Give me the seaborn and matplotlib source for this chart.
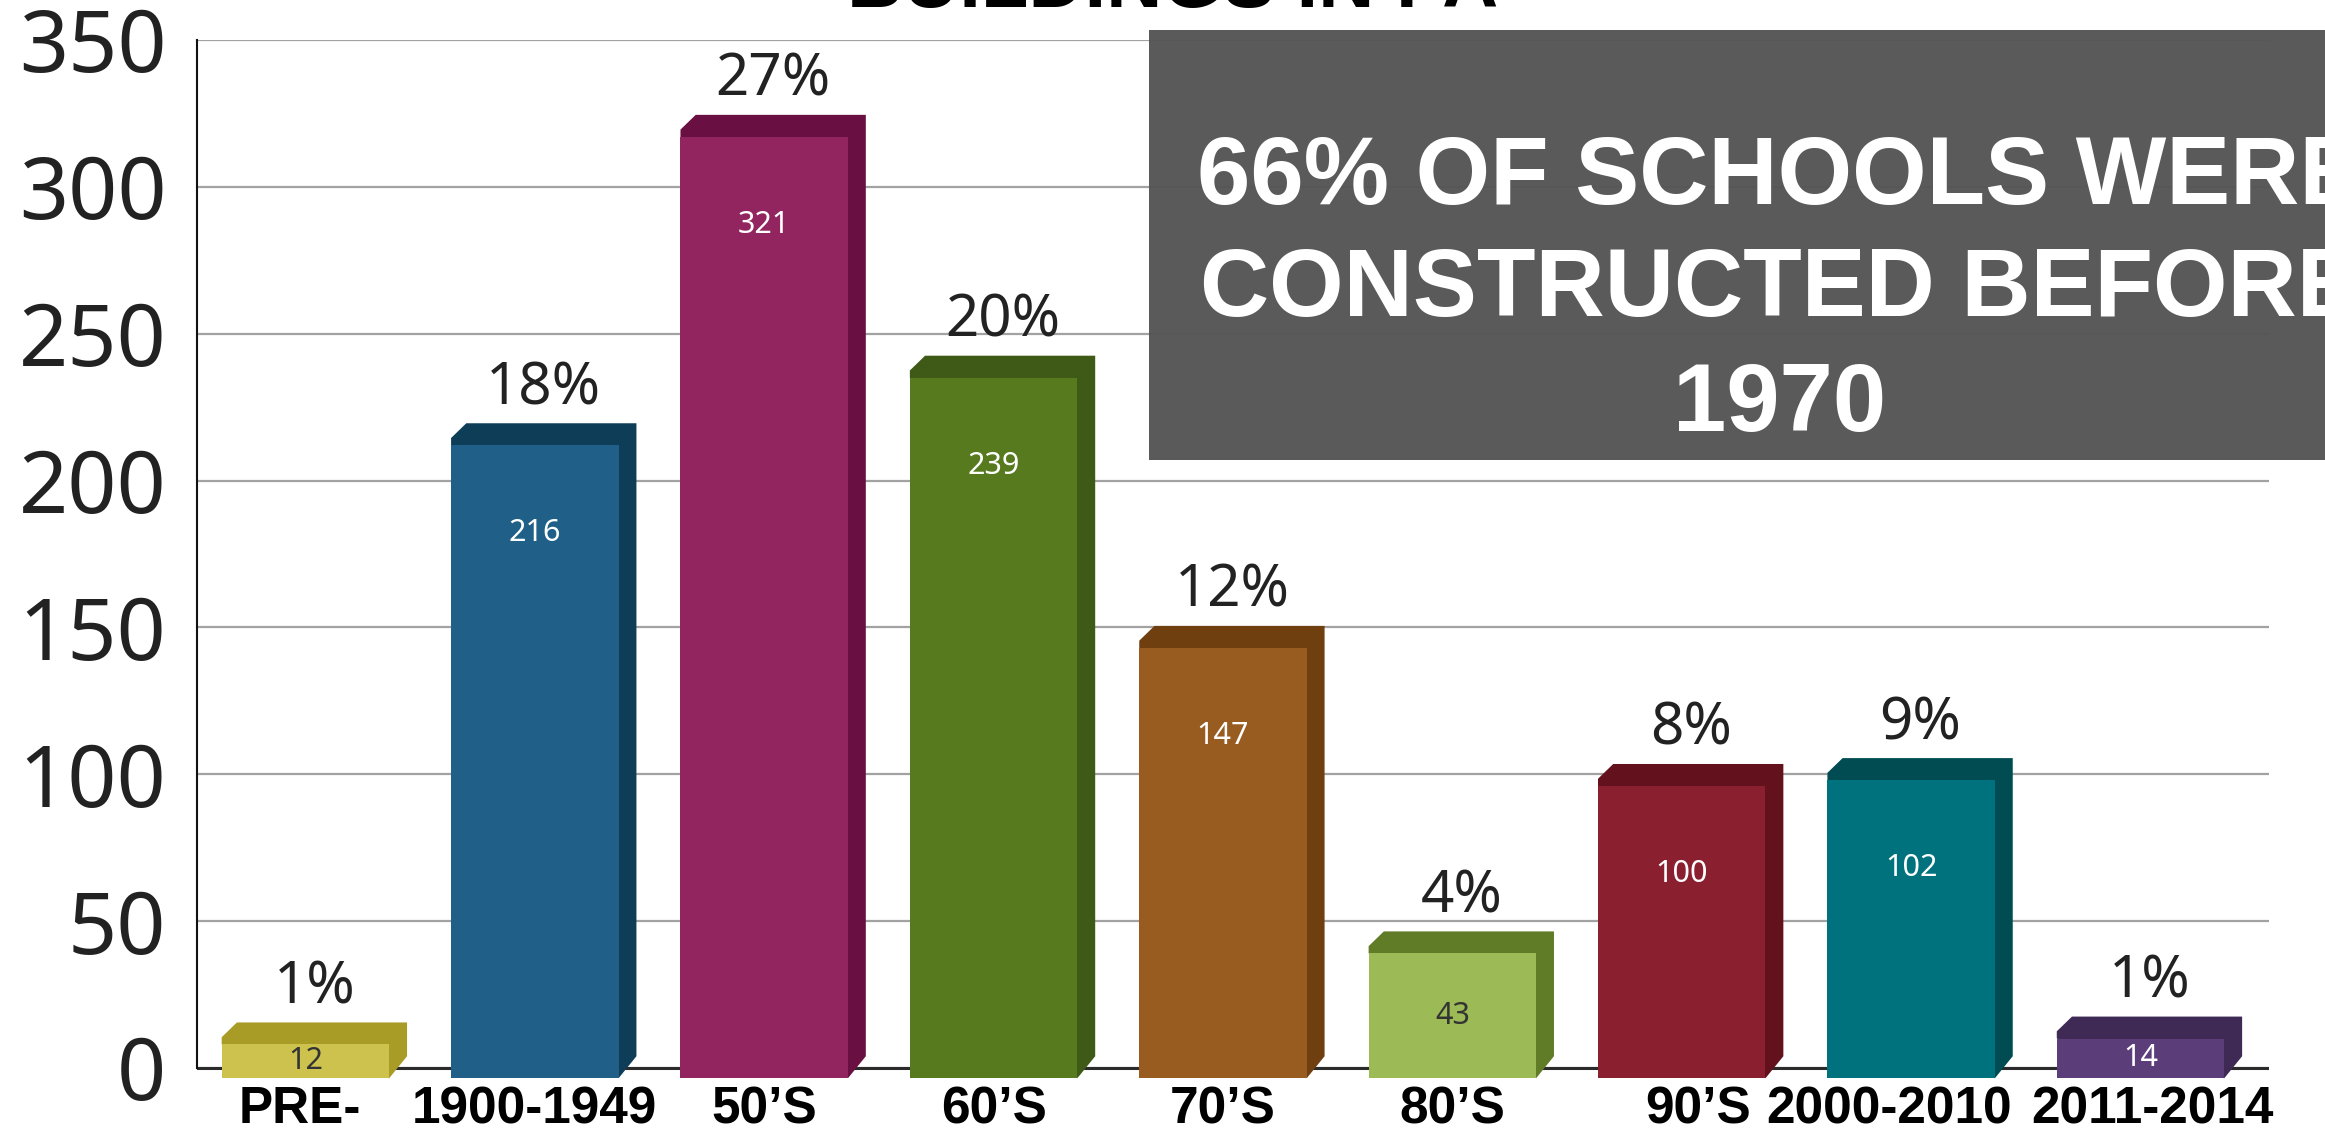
import matplotlib

matplotlib.use("Agg")
import matplotlib.pyplot as plt
import seaborn as sns
from matplotlib.patches import Polygon, Rectangle
from matplotlib.transforms import ScaledTranslation

CATEGORIES = ["PRE-", "1900-1949", "50’S", "60’S", "70’S", "80’S", "90’S", "2000-2010", "2011-2014"]
COUNTS = [12, 216, 321, 239, 147, 43, 100, 102, 14]
SHARES = ["1%", "18%", "27%", "20%", "12%", "4%", "8%", "9%", "1%"]
Y_TICKS = [0, 50, 100, 150, 200, 250, 300, 350]

FRONT_COLORS = ["#cdc24d", "#1f5f88", "#922560", "#587a1f", "#985b20",
                "#9cba55", "#8a1f2f", "#00727d", "#5b3e79"]
BACK_COLORS = ["#a89b26", "#0e3d57", "#6a0f42", "#3f5a16", "#6f3f10",
               "#617c27", "#63121d", "#004c52", "#3f2a55"]
INNER_TEXT_COLORS = ["#333333", "white", "white", "white", "white",
                     "#333333", "white", "white", "white"]
# small horizontal nudges (pixels) so the long labels don't collide
X_LABEL_SHIFT_PX = [-6, 0, 0, 0, 0, 0, 16, -22, 12]

TITLE = "BUILDINGS IN PA"
CALLOUT_LINES = ["66% OF SCHOOLS WERE", "CONSTRUCTED BEFORE", "1970"]

sns.set_theme(style="whitegrid")
plt.rcParams["font.family"] = ["Noto Sans", "DejaVu Sans"]

BASE = -3.5          # bars sink a little below the axis line
DX, DY = 0.078, 7.5  # 3d depth in data units
SINK = 4             # front face sits a bit under the value, the back rises above it

fig = plt.figure(figsize=(23.25, 11.35), dpi=100)
ax = fig.add_axes([0.0847, 0.0487, 0.8912, 0.9161])

sns.barplot(x=CATEGORIES, y=COUNTS, hue=CATEGORIES, palette=FRONT_COLORS,
            legend=False, width=0.73, saturation=1, ax=ax, zorder=3)

ax.set_xlim(-0.473, 8.56)
ax.set_ylim(-4, 350)

patches = sorted(ax.patches, key=lambda p: p.get_x())
for i, p in enumerate(patches):
    x0 = p.get_x()
    w = p.get_width()
    h = p.get_height()
    x1 = x0 + w
    top = h - SINK
    p.set_y(BASE)
    p.set_height(top - BASE)
    p.set_edgecolor("none")

    back = Polygon(
        [(x0, top), (x0, top + 0.33 * DY), (x0 + 0.85 * DX, top + DY),
         (x1 + DX, top + DY), (x1 + DX, BASE + DY), (x1, BASE)],
        closed=True, facecolor=BACK_COLORS[i], edgecolor="none", zorder=2.6,
    )
    ax.add_patch(back)

    cx = x0 + w / 2
    ax.text(cx + DX / 2, h + 10, SHARES[i], ha="center", va="baseline",
            fontsize=42, color="#222222", zorder=4)

    if h > 60:
        ly = h - 34
    else:
        ly = (top + BASE) / 2
    ax.text(cx, ly, str(COUNTS[i]), ha="center", va="center",
            fontsize=22, color=INNER_TEXT_COLORS[i], zorder=4)

ax.axhline(0, color="#2b2b2b", lw=2.2, zorder=2.4)

ax.yaxis.grid(True, color="#a2a2a2", lw=1.6)
ax.xaxis.grid(False)
ax.set_axisbelow(True)
for side in ["top", "right", "bottom"]:
    ax.spines[side].set_visible(False)
ax.spines["left"].set_bounds(0, 350)
ax.spines["left"].set_color("#111111")
ax.spines["left"].set_linewidth(1.5)

ax.set_yticks(Y_TICKS)
ax.set_yticklabels([str(t) for t in Y_TICKS], fontsize=62, color="#222222")
ax.tick_params(axis="y", length=0, pad=22)
ax.tick_params(axis="x", length=0, pad=4)
for lab, shift in zip(ax.get_xticklabels(), X_LABEL_SHIFT_PX):
    lab.set_fontfamily(["Liberation Sans", "DejaVu Sans"])
    lab.set_fontweight("bold")
    lab.set_fontsize(37)
    lab.set_color("black")
    lab.set_transform(lab.get_transform()
                      + ScaledTranslation(shift / fig.dpi, 0, fig.dpi_scale_trans))
ax.set_xlabel("")
ax.set_ylabel("")

fig.text(0.5045, 0.9935, TITLE, ha="center", va="baseline", fontsize=56,
         fontweight="bold", family=["Liberation Sans", "DejaVu Sans"], color="black")

box = Rectangle((0.494, 0.5947), 0.52, 0.379, transform=fig.transFigure,
                facecolor="#555555", edgecolor="none", alpha=0.97, zorder=10)
fig.add_artist(box)
for line, yb in zip(CALLOUT_LINES, [0.8203, 0.7216, 0.6203]):
    fig.text(0.7656, yb, line, ha="center", va="baseline", fontsize=69,
             fontweight="bold", family=["Liberation Sans", "DejaVu Sans"],
             color="white", zorder=11)

fig.savefig("out.png", dpi=100, facecolor="white")
